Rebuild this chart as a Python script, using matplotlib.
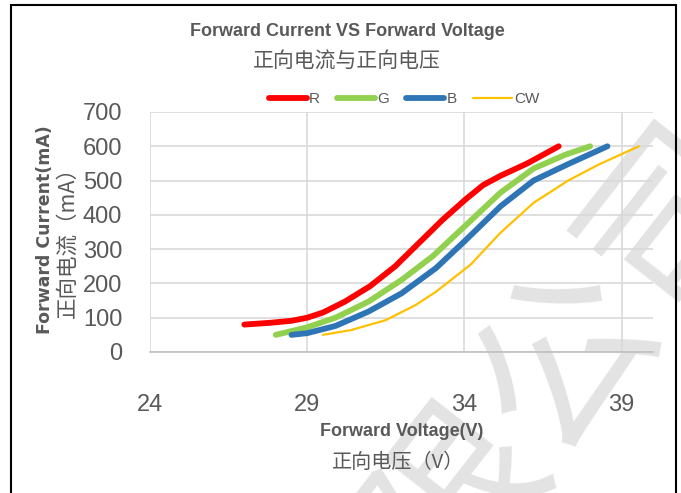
import matplotlib
matplotlib.use("Agg")
import matplotlib.pyplot as plt
from matplotlib.patches import Rectangle

plt.rcParams['font.family'] = ['Liberation Sans', 'Noto Sans CJK SC', 'DejaVu Sans']

# values
r_v = [27.0, 27.8, 28.5, 29.0, 29.5, 30.2, 31.0, 31.8, 32.6, 33.3, 34.05, 34.6, 35.15, 36.0, 37.0]
r_i = [80, 85, 91, 100, 115, 147, 192, 250, 322, 385, 446, 487, 514, 550, 600]
g_v = [28.0, 29.0, 29.9, 30.95, 32.0, 33.0, 34.05, 35.15, 36.2, 37.2, 38.0]
g_i = [50, 72, 100, 147, 210, 280, 370, 465, 535, 575, 600]
b_v = [28.5, 29.0, 29.9, 30.95, 32.0, 33.1, 34.05, 35.15, 36.2, 37.3, 38.55]
b_i = [50, 55, 76, 118, 171, 245, 327, 425, 500, 548, 600]
cw_v = [29.5, 30.4, 31.5, 32.45, 33.1, 34.2, 35.15, 36.2, 37.3, 38.3, 39.55]
cw_i = [50, 64, 93, 137, 176, 255, 348, 435, 500, 548, 600]

x_ticks = [24, 29, 34, 39]
y_ticks = [0, 100, 200, 300, 400, 500, 600, 700]

W, H = 681, 493
grey = '#595959'

fig = plt.figure(figsize=(W / 100, H / 100), dpi=100)
fig.patch.set_facecolor('white')

def px(x, y):
    return x / W, 1 - y / H

# outer frame
fig.patches.append(Rectangle((11 / W, -0.02), 665 / W, 1.02 - 5 / H, transform=fig.transFigure,
                             fill=False, edgecolor='black', linewidth=1.5, zorder=5))

# watermark, sits behind the plot
fig.text(*px(515, 430), '有限公司', rotation=52, fontsize=128, color='#e3e3e3',
         family=['Noto Sans CJK SC'], ha='center', va='center', zorder=-1)

ax = fig.add_axes([150 / W, 1 - 352 / H, 503 / W, 240 / H])
ax.set_facecolor('none')
ax.set_zorder(1)

lines = [
    ax.plot(r_v, r_i, color='#ff0000', lw=4.2, label='R')[0],
    ax.plot(g_v, g_i, color='#92d050', lw=4.2, label='G')[0],
    ax.plot(b_v, b_i, color='#2e75b6', lw=4.2, label='B')[0],
    ax.plot(cw_v, cw_i, color='#ffc000', lw=1.6, label='CW')[0],
]
for ln in lines:
    ln.set_solid_capstyle('round')
    ln.set_solid_joinstyle('round')

ax.set_xlim(24, 40)
ax.set_ylim(0, 700)
ax.set_xticks(x_ticks)
ax.set_yticks(y_ticks)
ax.grid(True, color='#d9d9d9', lw=1.2)
ax.set_axisbelow(True)
for s in ['top', 'right', 'left']:
    ax.spines[s].set_visible(False)
ax.spines['bottom'].set_color('#bfbfbf')
ax.spines['bottom'].set_linewidth(1.2)
ax.tick_params(axis='both', length=0, labelsize=17, colors=grey)
ax.tick_params(axis='x', pad=30)
ax.tick_params(axis='y', pad=20)

leg = ax.legend(handles=lines, ncol=4, loc='center', bbox_to_anchor=(px(404, 99)),
                bbox_transform=fig.transFigure, frameon=False, fontsize=11,
                handlelength=2.5, handletextpad=0.15, columnspacing=1.1)
for t in leg.get_texts():
    t.set_color(grey)

fig.text(*px(347, 32), 'Forward Current VS Forward Voltage', ha='center', va='center',
         fontsize=13, fontweight='bold', color=grey)
fig.text(*px(347, 62), '正向电流与正向电压', ha='center', va='center',
         fontsize=15, color=grey, family=['Noto Sans CJK SC'])
fig.text(*px(45, 230), 'Forward Current(mA)', ha='center', va='center', rotation=90,
         fontsize=12.5, fontweight='bold', color=grey, family=['DejaVu Sans'])
fig.text(*px(68, 237), '正向电流（mA）', ha='center', va='center', rotation=90,
         fontsize=15.5, color=grey, family=['Noto Sans CJK SC'])
fig.text(*px(402, 432), 'Forward Voltage(V)', ha='center', va='center',
         fontsize=13, fontweight='bold', color=grey)
fig.text(*px(398, 463), '正向电压（V）', ha='center', va='center',
         fontsize=14.5, color=grey, family=['Noto Sans CJK SC'])

fig.savefig('out.png', dpi=100)
